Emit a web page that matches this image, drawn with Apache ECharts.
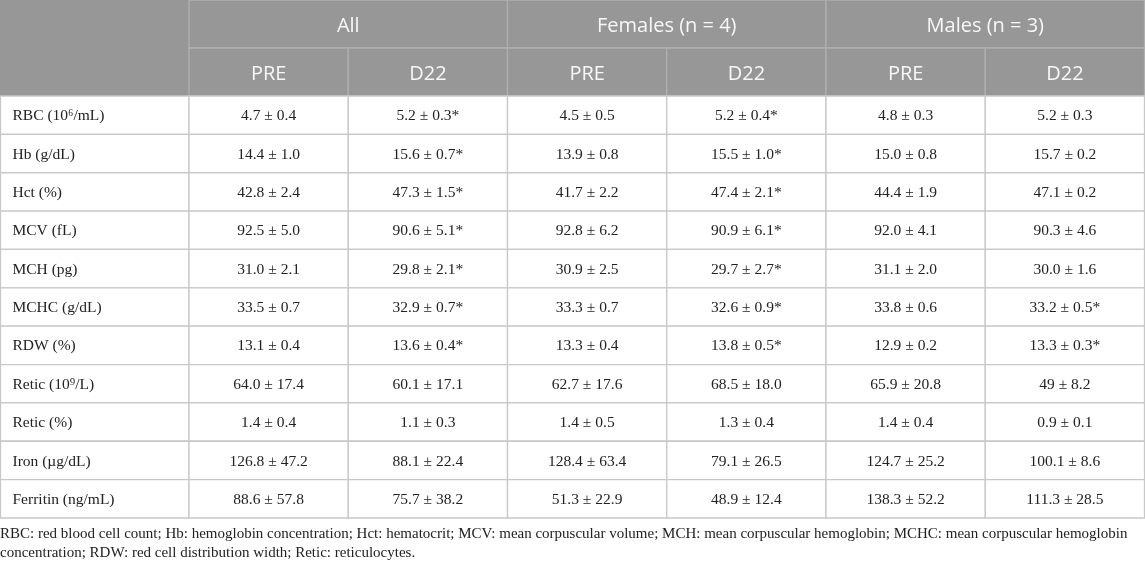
<!DOCTYPE html>
<html>
<head>
<meta charset="utf-8">
<script src="https://cdn.jsdelivr.net/npm/echarts@6/dist/echarts.min.js"></script>
<style>
  html, body { margin: 0; padding: 0; background: #fff; }
  #main { width: 1145px; height: 564px; }
</style>
</head>
<body>
<div id="main"></div>
<script>
// table content
const groups = ['All', 'Females (n = 4)', 'Males (n = 3)'];
const timepoints = ['PRE', 'D22', 'PRE', 'D22', 'PRE', 'D22'];
const parameters = ['RBC (10⁶/mL)', 'Hb (g/dL)', 'Hct (%)', 'MCV (fL)', 'MCH (pg)', 'MCHC (g/dL)',
  'RDW (%)', 'Retic (10⁹/L)', 'Retic (%)', 'Iron (µg/dL)', 'Ferritin (ng/mL)'];

const allPre = ['4.7 ± 0.4', '14.4 ± 1.0', '42.8 ± 2.4', '92.5 ± 5.0', '31.0 ± 2.1', '33.5 ± 0.7',
  '13.1 ± 0.4', '64.0 ± 17.4', '1.4 ± 0.4', '126.8 ± 47.2', '88.6 ± 57.8'];
const allD22 = ['5.2 ± 0.3*', '15.6 ± 0.7*', '47.3 ± 1.5*', '90.6 ± 5.1*', '29.8 ± 2.1*', '32.9 ± 0.7*',
  '13.6 ± 0.4*', '60.1 ± 17.1', '1.1 ± 0.3', '88.1 ± 22.4', '75.7 ± 38.2'];
const femalePre = ['4.5 ± 0.5', '13.9 ± 0.8', '41.7 ± 2.2', '92.8 ± 6.2', '30.9 ± 2.5', '33.3 ± 0.7',
  '13.3 ± 0.4', '62.7 ± 17.6', '1.4 ± 0.5', '128.4 ± 63.4', '51.3 ± 22.9'];
const femaleD22 = ['5.2 ± 0.4*', '15.5 ± 1.0*', '47.4 ± 2.1*', '90.9 ± 6.1*', '29.7 ± 2.7*', '32.6 ± 0.9*',
  '13.8 ± 0.5*', '68.5 ± 18.0', '1.3 ± 0.4', '79.1 ± 26.5', '48.9 ± 12.4'];
const malePre = ['4.8 ± 0.3', '15.0 ± 0.8', '44.4 ± 1.9', '92.0 ± 4.1', '31.1 ± 2.0', '33.8 ± 0.6',
  '12.9 ± 0.2', '65.9 ± 20.8', '1.4 ± 0.4', '124.7 ± 25.2', '138.3 ± 52.2'];
const maleD22 = ['5.2 ± 0.3', '15.7 ± 0.2', '47.1 ± 0.2', '90.3 ± 4.6', '30.0 ± 1.6', '33.2 ± 0.5*',
  '13.3 ± 0.3*', '49 ± 8.2', '0.9 ± 0.1', '100.1 ± 8.6', '111.3 ± 28.5'];

const footnote = 'RBC: red blood cell count; Hb: hemoglobin concentration; Hct: hematocrit; MCV: mean corpuscular volume; MCH: mean corpuscular hemoglobin; MCHC: mean corpuscular hemoglobin\nconcentration; RDW: red cell distribution width; Retic: reticulocytes.';

const columns = [allPre, allD22, femalePre, femaleD22, malePre, maleD22];

const HEAD_FILL = '#979797';
const HEAD_LINE = '#b0b0b0';
const BODY_LINE = '#c8c8c8';
const SANS = '"Open Sans", "Noto Sans", sans-serif';
const SERIF = '"Liberation Serif", "DejaVu Serif", serif';

// 生成一个画单元格的 renderItem
function cellRenderer(texts, opts) {
  return function (params, api) {
    const c = api.coord([api.value(0), api.value(1)]);
    const s = api.size([1, 1]);
    const x0 = c[0] - s[0] / 2;
    const y0 = c[1] - s[1] / 2;
    return {
      type: 'group',
      children: [
        {
          type: 'rect',
          shape: { x: x0, y: y0, width: s[0], height: s[1] },
          style: { fill: opts.fill, stroke: opts.stroke, lineWidth: 1.3 }
        },
        {
          type: 'text',
          style: {
            text: texts[params.dataIndex],
            x: opts.align === 'left' ? x0 + 12 : c[0],
            y: c[1] + (opts.dy || 0),
            align: opts.align || 'center',
            verticalAlign: 'middle',
            fill: opts.color,
            font: opts.font
          }
        }
      ]
    };
  };
}

// 各区域的单元格数据
const cornerData = [[0, 0]];
const cornerText = [''];

const groupData = groups.map((g, i) => [i, 0]);
const subData = timepoints.map((t, i) => [i, 0]);

const labelData = parameters.map((p, i) => [0, i]);

const bodyData = [];
const bodyText = [];
columns.forEach((col, ci) => {
  col.forEach((v, ri) => {
    bodyData.push([ci, ri]);
    bodyText.push(v);
  });
});

function catAxis(data, gridIndex, inverse) {
  return { type: 'category', data: data, gridIndex: gridIndex, show: false, inverse: !!inverse };
}

const headStyle = { fill: HEAD_FILL, stroke: HEAD_LINE, color: '#f7f7f7', font: '20px ' + SANS, dy: 2 };

const option = {
  animation: false,
  title: {
    text: footnote,
    left: 0,
    top: 525,
    padding: 0,
    textStyle: { fontFamily: SERIF, fontSize: 15, fontWeight: 'normal', color: '#222', lineHeight: 19 }
  },
  grid: [
    { left: 0, top: 0, width: 189, height: 96 },           // corner
    { left: 189, right: 0.5, top: 0, height: 48 },          // groups
    { left: 189, right: 0.5, top: 48, height: 48 },         // timepoints
    { left: 0.5, width: 188.5, top: 96, height: 422 },      // labels
    { left: 189, right: 0.5, top: 96, height: 422 }         // body
  ],
  xAxis: [
    catAxis(['corner'], 0),
    catAxis(groups, 1),
    catAxis(timepoints.map((t, i) => t + i), 2),
    catAxis(['Parameter'], 3),
    catAxis(timepoints.map((t, i) => t + i), 4)
  ],
  yAxis: [
    catAxis(['head'], 0),
    catAxis(['group'], 1),
    catAxis(['time'], 2),
    catAxis(parameters, 3, true),
    catAxis(parameters, 4, true)
  ],
  series: [
    {
      type: 'custom', xAxisIndex: 0, yAxisIndex: 0, data: cornerData,
      renderItem: cellRenderer(cornerText, Object.assign({}, headStyle, { stroke: HEAD_FILL }))
    },
    {
      type: 'custom', xAxisIndex: 1, yAxisIndex: 1, data: groupData,
      renderItem: cellRenderer(groups, headStyle)
    },
    {
      type: 'custom', xAxisIndex: 2, yAxisIndex: 2, data: subData,
      renderItem: cellRenderer(timepoints, headStyle)
    },
    {
      type: 'custom', xAxisIndex: 3, yAxisIndex: 3, data: labelData,
      renderItem: cellRenderer(parameters, { fill: '#fff', stroke: BODY_LINE, color: '#222', font: '15.5px ' + SERIF, align: 'left', dy: 1 })
    },
    {
      type: 'custom', xAxisIndex: 4, yAxisIndex: 4, data: bodyData,
      renderItem: cellRenderer(bodyText, { fill: '#fff', stroke: BODY_LINE, color: '#222', font: '15.5px ' + SERIF, dy: 1 })
    }
  ]
};

const chart = echarts.init(document.getElementById('main'));
chart.setOption(option);
window.addEventListener('resize', () => chart.resize());
</script>
</body>
</html>
